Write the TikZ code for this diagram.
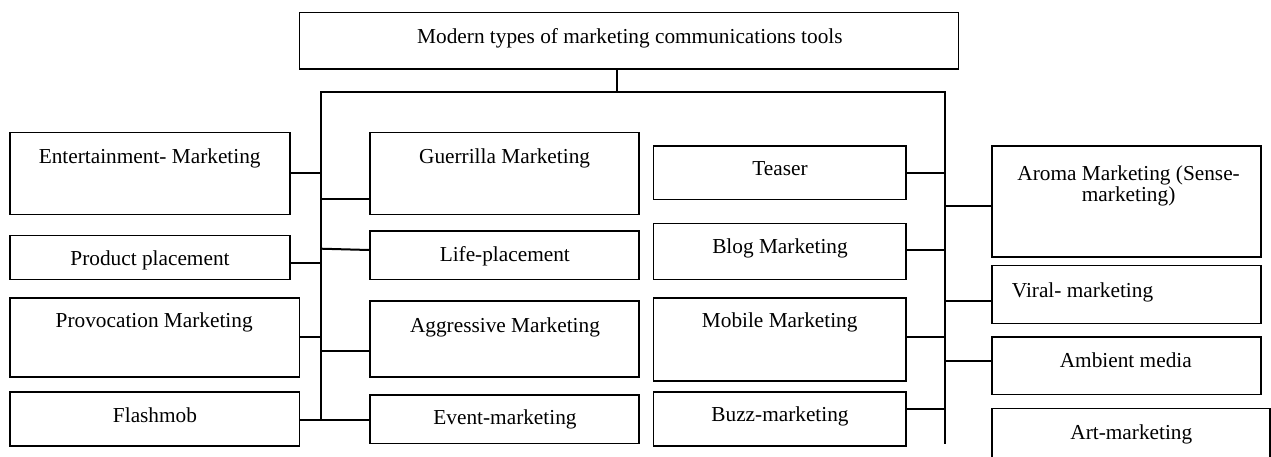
\documentclass[tikz,border=0pt]{standalone}
\usepackage{fontspec}
\setmainfont{Liberation Serif}
\newcommand\mkbox[5]{\node[boxst, minimum width={(#4-#2)*1pt}, minimum height={(#5-#3)*1pt}] (#1) at ({(#2+#4)/2},{(#3+#5)/2}) {};}
\begin{document}
\begin{tikzpicture}[x=1pt,y=-1pt,
  boxst/.style={draw=black, line width=1.6pt, inner sep=0pt, rectangle},
  lbl/.style={inner sep=0pt, anchor=base, font=\fontsize{21.3}{21.7}\selectfont},
  conn/.style={draw=black, line width=2pt}]
\useasboundingbox (0,0) rectangle (1271,456);
\fill[white] (0,0) rectangle (1271,456);
% boxes
\mkbox{top}{299.3}{12.3}{958.3}{69}
\mkbox{ent}{10}{132.3}{290}{214.3}
\mkbox{gue}{370}{132.3}{639}{214.3}
\mkbox{tea}{653.3}{145.7}{906}{199.3}
\mkbox{aro}{991.7}{145.7}{1260.7}{256.7}
\mkbox{pro}{10}{235.3}{290}{279.3}
\mkbox{lif}{370}{231}{639}{279.3}
\mkbox{blo}{653.3}{223.3}{906}{279.3}
\mkbox{vir}{991.7}{265.3}{1260.7}{323.3}
\mkbox{prv}{10}{297.7}{299.3}{377}
\mkbox{agg}{370}{301}{639}{377}
\mkbox{mob}{653.3}{297.7}{906}{381}
\mkbox{amb}{991.7}{337}{1260.7}{394.3}
\mkbox{fla}{10}{391.7}{299.3}{446}
\mkbox{eve}{370}{395}{639}{443.3}
\mkbox{buz}{653.3}{391.7}{906}{446}
\mkbox{art}{991.7}{408.3}{1270}{464}
% texts
\node[lbl] (t-top) at (629.9,43.3) {Modern types of marketing communications tools};
\node[lbl] (t-ent) at (149.7,163.3) {Entertainment- Marketing};
\node[lbl] (t-gue) at (504.6,163.3) {Guerrilla Marketing};
\node[lbl] (t-tea) at (780,175.7) {Teaser};
\node[lbl] (t-aro1) at (1128.6,180) {Aroma Marketing (Sense-};
\node[lbl] (t-aro2) at (1128.6,201.7) {marketing)};
\node[lbl] (t-pro) at (150,265.3) {Product placement};
\node[lbl] (t-lif) at (504.8,261) {Life-placement};
\node[lbl] (t-blo) at (780,253.3) {Blog Marketing};
\node[lbl, anchor=base west] (t-vir) at (1011.7,297) {Viral- marketing};
\node[lbl] (t-prv) at (154.2,327.7) {Provocation Marketing};
\node[lbl] (t-agg) at (505,332.7) {Aggressive Marketing};
\node[lbl] (t-mob) at (779.7,327.7) {Mobile Marketing};
\node[lbl] (t-amb) at (1125.8,367.7) {Ambient media};
\node[lbl] (t-fla) at (155,422.7) {Flashmob};
\node[lbl] (t-eve) at (505,424.3) {Event-marketing};
\node[lbl] (t-buz) at (780,421) {Buzz-marketing};
\node[lbl] (t-art) at (1131.3,439.3) {Art-marketing};
% bus coordinates
\coordinate (stem) at (617,91.7);
\coordinate (ltop) at (321,91.7);
\coordinate (lbot) at (321,420.3);
\coordinate (rtop) at (945,91.7);
\coordinate (rbot) at (945,444.3);
% buses
\draw[conn] (stem |- top.south) -- (stem);
\draw[conn] (lbot) -- (ltop) -- (rtop) -- (rbot);
% left side connectors
\draw[conn] (ent.east |- 0,172.7) -- (ltop |- 0,172.7);
\draw[conn] (gue.west |- 0,199) -- (ltop |- 0,199);
\draw[conn] (pro.east |- 0,263.3) -- (ltop |- 0,263.3);
\draw[conn] (ltop |- 0,248.7) -- (lif.west |- 0,250);
\draw[conn] (prv.east |- 0,337) -- (ltop |- 0,337);
\draw[conn] (agg.west |- 0,351) -- (ltop |- 0,351);
\draw[conn] (fla.east |- 0,420.3) -- (ltop |- 0,420.3);
\draw[conn] (eve.west |- 0,420.3) -- (ltop |- 0,420.3);
% right side connectors
\draw[conn] (tea.east |- 0,172.7) -- (rtop |- 0,172.7);
\draw[conn] (aro.west |- 0,206) -- (rtop |- 0,206);
\draw[conn] (blo.east |- 0,250) -- (rtop |- 0,250);
\draw[conn] (vir.west |- 0,301) -- (rtop |- 0,301);
\draw[conn] (mob.east |- 0,337) -- (rtop |- 0,337);
\draw[conn] (amb.west |- 0,361) -- (rtop |- 0,361);
\draw[conn] (buz.east |- 0,408.7) -- (rtop |- 0,408.7);
\end{tikzpicture}
\end{document}
